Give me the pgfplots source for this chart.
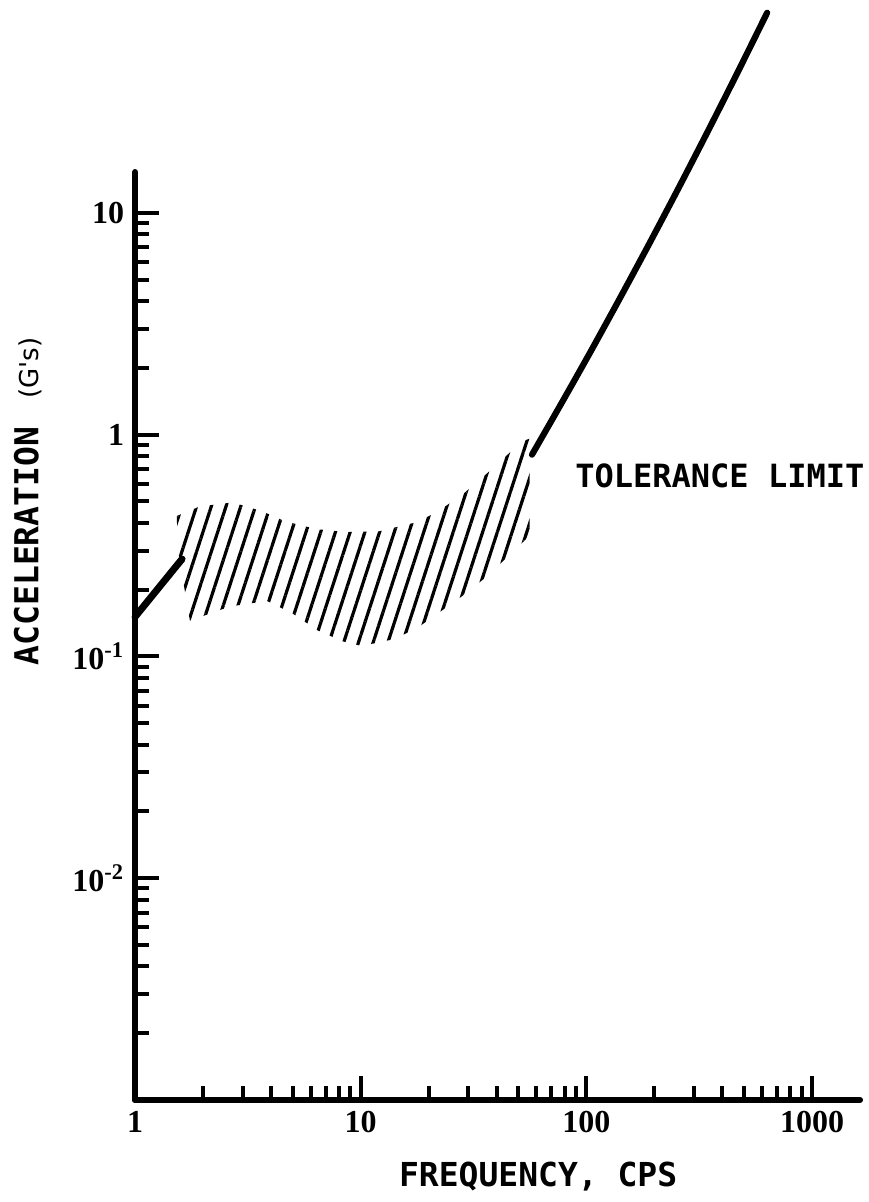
\documentclass[border=0pt]{standalone}
\usepackage{pgfplots}
\pgfplotsset{compat=1.18}
\usepgfplotslibrary{fillbetween}
\usetikzlibrary{patterns.meta}
\usepackage{fontspec}
\setmainfont{Liberation Serif}
\newfontfamily\leroy{DejaVu Sans Mono}
\newfontfamily\dvs{DejaVu Sans}

\begin{document}
\begin{tikzpicture}
\begin{axis}[
  xmode=log, ymode=log,
  scale only axis,
  width=362.5pt, height=464pt,
  xmin=1, xmax=1632, ymin=0.001, ymax=15.3,
  axis x line=bottom, axis y line=left,
  axis line style={-, line width=3pt, line cap=round},
  tick align=inside,
  xtick={1,10,100,1000}, xticklabels={1,10,100,1000},
  ytick={0.001,0.01,0.1,1,10},
  yticklabels={{},{10\textsuperscript{-2}},{10\textsuperscript{-1}},{1},{10}},
  major tick length=12pt, minor tick length=7pt,
  tick style={line width=2pt, black},
  ticklabel style={font=\fontsize{16}{18}\selectfont\bfseries},
  xticklabel style={yshift=-2pt},
  yticklabel style={xshift=-2pt},
  /pgf/number format/assume math mode=true,
  clip=false,
  xlabel={FREQUENCY, CPS},
  xlabel style={at={(axis description cs:0.556,-0.083)}, anchor=center, font=\leroy\bfseries\fontsize{16.5}{18}\selectfont},
  ylabel={ACCELERATION\hspace{14pt}{\dvs\mdseries\fontsize{13}{15}\selectfont (G's)}},
  ylabel style={at={(axis description cs:-0.148,0.645)}, anchor=center, font=\leroy\bfseries\fontsize{16.5}{18}\selectfont},
]
\path (axis cs:0.252,3.467e-4) rectangle (axis cs:1788,91.3);

\addplot[name path=U, draw=none, forget plot] coordinates {
(1.53,0.43) (1.94,0.475) (2.71,0.495) (3.65,0.452) (4.61,0.407) (6.38,0.375)
(8.67,0.364) (12.1,0.367) (17.7,0.403) (21.7,0.447) (28.3,0.538) (38.0,0.697)
(51.6,0.93) (56,0.96)};
\addplot[name path=L, draw=none, forget plot] coordinates {
(1.55,0.30) (1.75,0.145) (2.63,0.168) (3.84,0.178) (5.0,0.156) (6.45,0.131)
(8.32,0.117) (9.9,0.112) (11.8,0.115) (14.1,0.12) (17.7,0.134) (21.9,0.156)
(28.3,0.188) (36.5,0.231) (49.5,0.311) (56,0.35)};
\addplot[pattern={Lines[angle=72,distance=7pt,line width=1.6pt]}, draw=none] fill between[of=U and L];

\addplot[black, line width=3.5pt, line cap=round] coordinates {(1,0.151) (1.615,0.275)};
\addplot[black, line width=3.1pt, line cap=round, smooth] coordinates {
(57.4,0.813) (77.4,1.381) (104.5,2.375) (140.9,4.133) (190.1,7.281)
(256.4,12.98) (345.9,23.44) (466.7,42.83) (632.4,79.98)};

\node[anchor=west, inner sep=0pt, font=\leroy\bfseries\fontsize{16}{18}\selectfont] at (axis cs:89,0.652) {TOLERANCE LIMIT};
\end{axis}
\end{tikzpicture}
\end{document}
